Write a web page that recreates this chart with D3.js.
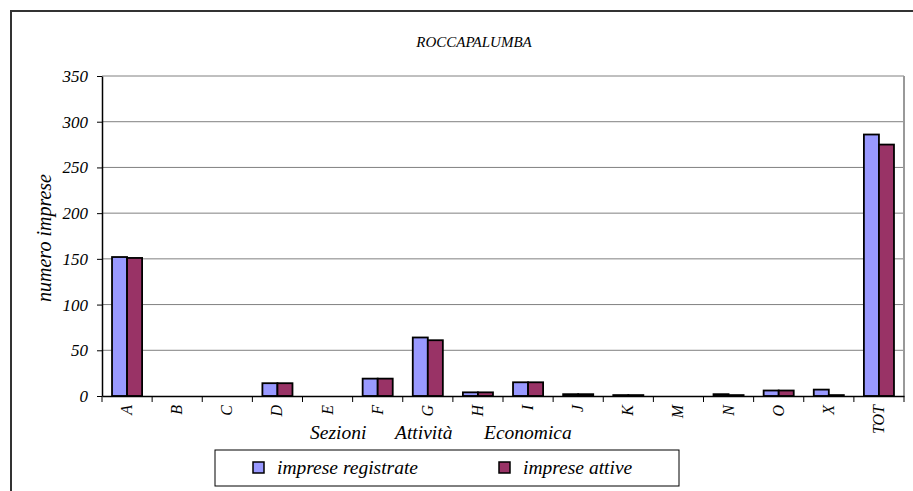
<!DOCTYPE html>
<html>
<head>
<meta charset="utf-8">
<script src="https://cdn.jsdelivr.net/npm/d3@7"></script>
<style>
  body { margin: 0; background: #fff; }
  svg text { font-family: "Liberation Serif", "Times New Roman", Times, "DejaVu Serif", serif; font-style: italic; fill: #000; }
</style>
</head>
<body>
<div id="chart"></div>
<script>
var categories = ['A', 'B', 'C', 'D', 'E', 'F', 'G', 'H', 'I', 'J', 'K', 'M', 'N', 'O', 'X', 'TOT']
var registrate = [152, 0, 0, 14, 0, 19, 64, 4, 15, 2, 1, 0, 2, 6, 7, 286]
var attive = [151, 0, 0, 14, 0, 19, 61, 4, 15, 2, 1, 0, 1, 6, 1, 275]
var seriesNames = ['imprese registrate', 'imprese attive']
var yTicks = [0, 50, 100, 150, 200, 250, 300, 350]

var width = 913
var height = 491
var margin = { top: 76, left: 102, right: 9, bottom: 95 }
var serif = '"Liberation Serif", "Times New Roman", Times, "DejaVu Serif", serif'

var colors = { 'imprese registrate': '#9999ff', 'imprese attive': '#993366' }

var svg = d3
  .select('#chart')
  .append('svg')
  .attr('width', width)
  .attr('height', height)

// outer chart frame (runs off the right/bottom edge)
svg
  .append('rect')
  .attr('x', 11)
  .attr('y', 11)
  .attr('width', width + 20)
  .attr('height', height + 20)
  .attr('fill', 'none')
  .attr('stroke', '#333')
  .attr('stroke-width', 2)

var x = d3
  .scaleBand()
  .domain(categories)
  .range([margin.left, width - margin.right])

var xInner = d3
  .scaleBand()
  .domain(seriesNames)
  .range([x.bandwidth() * 0.2, x.bandwidth() * 0.8])

var y = d3
  .scaleLinear()
  .domain([0, 350])
  .range([height - margin.bottom, margin.top])

// title
svg
  .append('text')
  .attr('x', 474)
  .attr('y', 47)
  .attr('text-anchor', 'middle')
  .style('font-size', '15px')
  .text('ROCCAPALUMBA')

// gridlines
svg
  .append('g')
  .selectAll('line')
  .data(yTicks.filter(d => d > 0))
  .enter()
  .append('line')
  .attr('x1', margin.left)
  .attr('x2', width - margin.right)
  .attr('y1', d => y(d))
  .attr('y2', d => y(d))
  .attr('stroke', '#808080')
  .attr('stroke-width', 1)

// right border of plot area
svg
  .append('line')
  .attr('x1', width - margin.right)
  .attr('x2', width - margin.right)
  .attr('y1', margin.top)
  .attr('y2', y(0))
  .attr('stroke', '#999')
  .attr('stroke-width', 2)

var data = categories.map((c, i) => ({
  cat: c,
  values: [
    { name: seriesNames[0], value: registrate[i] },
    { name: seriesNames[1], value: attive[i] },
  ],
}))

var groups = svg
  .append('g')
  .selectAll('g')
  .data(data)
  .enter()
  .append('g')
  .attr('transform', d => 'translate(' + x(d.cat) + ',0)')

groups
  .selectAll('rect')
  .data(d => d.values.filter(v => v.value > 0))
  .enter()
  .append('rect')
  .attr('x', d => xInner(d.name))
  .attr('width', xInner.bandwidth())
  .attr('y', d => y(d.value))
  .attr('height', d => y(0) - y(d.value))
  .attr('fill', d => colors[d.name])
  .attr('stroke', '#000')
  .attr('stroke-width', 1.8)

// y axis
var yAxis = svg
  .append('g')
  .attr('transform', 'translate(' + margin.left + ',0)')
  .call(d3.axisLeft(y).tickValues(yTicks).tickSize(5).tickSizeOuter(0).tickPadding(9))

yAxis.attr('font-family', null).attr('font-size', null)
yAxis.select('.domain').attr('stroke', '#000').attr('stroke-width', 1.5)
yAxis.selectAll('.tick line').attr('stroke', '#000')
yAxis
  .selectAll('text')
  .style('font-family', serif)
  .style('font-style', 'italic')
  .style('font-size', '17px')
  .attr('fill', '#000')

// x axis
var xAxis = svg
  .append('g')
  .attr('transform', 'translate(0,' + y(0) + ')')
  .call(d3.axisBottom(x).tickSize(0).tickFormat(''))

xAxis.select('.domain').attr('stroke', '#000').attr('stroke-width', 1.5)

svg
  .append('g')
  .selectAll('line')
  .data(d3.range(categories.length + 1))
  .enter()
  .append('line')
  .attr('x1', i => margin.left + i * x.step())
  .attr('x2', i => margin.left + i * x.step())
  .attr('y1', y(0))
  .attr('y2', y(0) + 6)
  .attr('stroke', '#000')

svg
  .append('g')
  .selectAll('text')
  .data(categories)
  .enter()
  .append('text')
  .attr('transform', d => 'translate(' + (x(d) + x.bandwidth() / 2 + 5) + ',' + (y(0) + 9) + ') rotate(-90)')
  .attr('text-anchor', 'end')
  .style('font-size', '16px')
  .text(d => d)

// x axis title
var xTitle = [
  { t: 'Sezioni', x: 310 },
  { t: 'Attività', x: 395 },
  { t: 'Economica', x: 484 },
]
svg
  .append('g')
  .selectAll('text')
  .data(xTitle)
  .enter()
  .append('text')
  .attr('x', d => d.x)
  .attr('y', 439)
  .style('font-size', '19.5px')
  .text(d => d.t)

// y axis title
svg
  .append('text')
  .attr('transform', 'translate(51,238) rotate(-90)')
  .attr('text-anchor', 'middle')
  .style('font-size', '20px')
  .text('numero imprese')

// legend
var legend = svg.append('g')
legend
  .append('rect')
  .attr('x', 215)
  .attr('y', 450)
  .attr('width', 464)
  .attr('height', 36)
  .attr('fill', '#fff')
  .attr('stroke', '#000')
  .attr('stroke-width', 1)

var legendPos = [253, 499]
seriesNames.forEach((s, i) => {
  legend
    .append('rect')
    .attr('x', legendPos[i])
    .attr('y', 462)
    .attr('width', 11)
    .attr('height', 11)
    .attr('fill', colors[s])
    .attr('stroke', '#000')
    .attr('stroke-width', 1.5)
  legend
    .append('text')
    .attr('x', legendPos[i] + 24)
    .attr('y', 474)
    .style('font-size', '19.5px')
    .text(s)
})
</script>
</body>
</html>
